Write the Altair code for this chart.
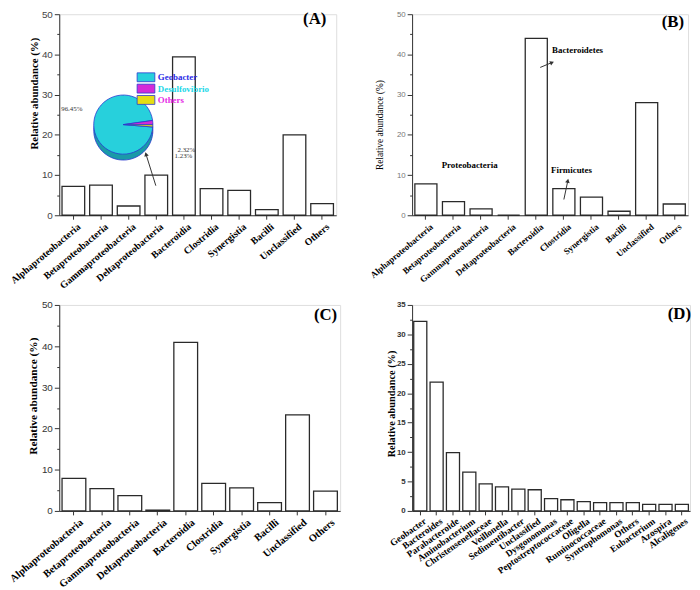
import math
import altair as alt
import pandas as pd

# ---------------- data ----------------
classes = ["Alphaproteobacteria", "Betaproteobacteria", "Gammaproteobacteria",
           "Deltaproteobacteria", "Bacteroidia", "Clostridia", "Synergistia",
           "Bacilli", "Unclassified", "Others"]
abund_a = [7.2, 7.5, 2.3, 10.0, 39.4, 6.6, 6.2, 1.4, 20.0, 2.9]
abund_b = [7.8, 3.4, 1.6, 0.0, 44.0, 6.6, 4.5, 1.0, 28.0, 2.8]
abund_c = [7.9, 5.4, 3.7, 0.2, 40.9, 6.7, 5.6, 2.0, 23.3, 4.8]

genera = ["Geobacter", "Bacteroides", "Parabacteroide", "Aminobacterium",
          "Christensenellaceae", "Veillonella", "Sedimentibacter", "Unclassified",
          "Dysgonomonas", "Peptostreptococcaceae", "Oligella", "Ruminococcaceae",
          "Syntrophomonas", "Others", "Eubacterium", "Azospira", "Alcaligenes"]
abund_d = [32.2, 21.9, 9.9, 6.6, 4.6, 4.1, 3.7, 3.6, 2.1, 1.9, 1.6, 1.4, 1.4,
           1.4, 1.1, 1.1, 1.1]

pie_labels = ["Geobacter", "Desulfovibrio", "Others"]
pie_share = [96.45, 2.32, 1.23]
pie_order = [2, 0, 1]
pie_pct_text = ["96.45%", "2.32%", "1.23%"]

annot_b = ["Proteobacteria", "Bacteroidetes", "Firmicutes"]
panel_tags = ["(A)", "(B)", "(C)", "(D)"]
y_title = "Relative abundance (%)"

# ---------------- style ----------------
SERIF = "Liberation Serif"
SANS = "Liberation Sans"
pie_colors = ["#27D0DC", "#D42AD8", "#E6DE14"]
pie_side = ["#1A9AA8", "#9A1E9E", "#A8A20E"]
legend_text_colors = ["#2B2BE6", "#22D8E8", "#E62BE6"]


def txt(s, x, y, size=9, bold=True, color="black", align="left", font=SERIF):
    return alt.Chart(pd.DataFrame({"t": [s]})).mark_text(
        font=font, fontSize=size, fontWeight="bold" if bold else "normal",
        color=color, align=align, baseline="middle"
    ).encode(text="t:N", x=alt.value(x), y=alt.value(y))


def arrow(x1, y1, x2, y2, color="#333"):
    line = alt.Chart(pd.DataFrame({"a": [0]})).mark_rule(
        color=color, strokeWidth=1).encode(
        x=alt.value(x1), y=alt.value(y1), x2=alt.value(x2), y2=alt.value(y2))
    ang = math.degrees(math.atan2(x2 - x1, -(y2 - y1))) % 360
    head = alt.Chart(pd.DataFrame({"a": [0]})).mark_point(
        shape="triangle-up", filled=True, size=22, color=color, angle=ang,
        opacity=1).encode(x=alt.value(x2), y=alt.value(y2))
    return [line, head]


def bars(cats, vals, w, h, ymax, major, minor, xfs, xbold, angle, ylfs,
         ylcolor, ylbold, tfs, tbold, tx, ty, pad_inner, lab_pad, lab_off):
    df = pd.DataFrame({"cat": cats, "val": vals})
    n = int(round(ymax / minor))
    tvals = [round(i * minor, 3) for i in range(n + 1)]
    return alt.Chart(df).mark_bar(
        fill="white", stroke="#2a2a2a", strokeWidth=1.3).encode(
        x=alt.X("cat:N", sort=cats, title=None,
                scale=alt.Scale(paddingInner=pad_inner, paddingOuter=0.1),
                axis=alt.Axis(labelAngle=angle, labelAlign="right",
                              labelBaseline="middle", labelFont=SERIF,
                              labelFontSize=xfs,
                              labelFontWeight="bold" if xbold else "normal",
                              labelColor="black", labelPadding=lab_pad,
                              labelOffset=lab_off,
                              tickSize=4, tickColor="#333", domainColor="#333",
                              labelOverlap=False)),
        y=alt.Y("val:Q", scale=alt.Scale(domain=[0, ymax], nice=False),
                axis=alt.Axis(values=tvals, title=y_title,
                              labelExpr=f"datum.value % {major} === 0 ? datum.label : ''",
                              tickSize={"condition": {"test": f"datum.value % {major} === 0", "value": 5}, "value": 2.5},
                              tickColor="#333", domainColor="#333",
                              labelFont=SANS, labelFontSize=ylfs,
                              labelColor=ylcolor,
                              labelFontWeight="bold" if ylbold else "normal",
                              labelPadding=2, grid=False,
                              titleFont=SERIF, titleFontSize=tfs,
                              titleFontWeight="bold" if tbold else "normal",
                              titleColor="black", titleX=tx, titleY=ty,
                              titleBaseline="middle", titleAlign="center",
                              titleAngle=270)),
    ).properties(width=w, height=h)


# ---------------- panel A ----------------
bA = bars(classes, abund_a, 281, 204, 50, 10, 5, 10, True, -40, 10, "#444",
          False, 11, True, -25, 80, 0.18, 6, 6)

pie_df = pd.DataFrame({"label": pie_labels, "share": pie_share, "ord": pie_order})
start = 1.43
theta_scale = alt.Scale(range=[start, start + 2 * math.pi])
pcx, pcy, pr = 65, 112, 30
pie_sideL = alt.Chart(pie_df).mark_arc(radius=pr, stroke="#2a3ad0", strokeWidth=0.8).encode(
    theta=alt.Theta("share:Q", stack=True, scale=theta_scale),
    fill=alt.Fill("label:N", scale=alt.Scale(domain=pie_labels, range=pie_side), legend=None),
    order=alt.Order("ord:Q"),
    x=alt.value(pcx), y=alt.value(pcy + 6))
pie_top = alt.Chart(pie_df).mark_arc(radius=pr, stroke="#2a3ad0", strokeWidth=0.8).encode(
    theta=alt.Theta("share:Q", stack=True, scale=theta_scale),
    color=alt.Color("label:N", scale=alt.Scale(domain=pie_labels, range=pie_colors), legend=None),
    order=alt.Order("ord:Q"),
    x=alt.value(pcx), y=alt.value(pcy))

legend_layers = []
for i, (lab, col, tcol) in enumerate(zip(pie_labels, pie_colors, legend_text_colors)):
    yy = 64 + i * 11.5
    legend_layers.append(
        alt.Chart(pd.DataFrame({"t": [lab]})).mark_rect(
            fill=col, stroke="#2a3ad0", strokeWidth=0.8).encode(
            x=alt.value(79), x2=alt.value(97), y=alt.value(yy - 4.5), y2=alt.value(yy + 4.5)))
    legend_layers.append(txt(lab, 100, yy, size=9, bold=True, color=tcol))

pct_layers = [txt(pie_pct_text[0], 2, 96, size=7, bold=False, color="#333"),
              txt(pie_pct_text[1], 120, 138, size=7, bold=False, color="#333"),
              txt(pie_pct_text[2], 117, 144, size=7, bold=False, color="#333")]

panelA = alt.layer(bA, pie_sideL, pie_top, *legend_layers, *pct_layers,
                   *arrow(98, 174, 88, 142),
                   txt(panel_tags[0], 271, 5, size=17, align="right"))

# ---------------- panel B ----------------
bB = bars(classes, abund_b, 280, 204, 50, 10, 5, 9, True, -40, 8, "#777",
          False, 9.5, False, -33, 112, 0.2, 6, 6)
panelB = alt.layer(bB,
                   txt(annot_b[0], 30, 153),
                   txt(annot_b[1], 142, 36),
                   *arrow(130, 54, 142, 49),
                   txt(annot_b[2], 141, 158),
                   *arrow(154, 188, 158, 169),
                   txt(panel_tags[1], 276, 8, size=17, align="right"))

# ---------------- panel C ----------------
bC = bars(classes, abund_c, 285, 209, 50, 10, 5, 10.5, True, -40, 10, "#333",
          False, 11.5, True, -26, 92, 0.15, 6, 8)
panelC = alt.layer(bC, txt(panel_tags[2], 282, 10, size=17, align="right"))

# ---------------- panel D ----------------
bD = bars(genera, abund_d, 282, 209, 35, 5, 2.5, 9.5, True, -35, 8, "#333",
          True, 10.5, True, -21, 100, 0.2, 5, 5)
panelD = alt.layer(bD, txt(panel_tags[3], 283, 9, size=17, align="right"))

chart = alt.concat(panelA, panelB, panelC, panelD, columns=2,
                   spacing={"row": 91, "column": 73}, bounds="flush",
                   padding={"left": -1, "top": -4, "right": 0, "bottom": 0}
                   ).configure_view(stroke=None).configure(background="white")

chart.save("out.html", embed_options={"renderer": "svg", "actions": False})
